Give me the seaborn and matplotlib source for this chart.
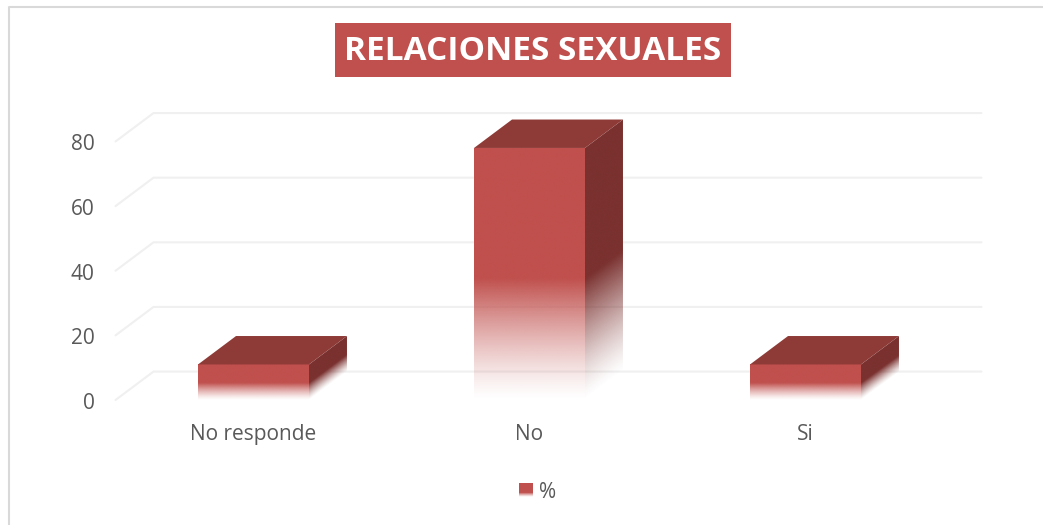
import numpy as np
import pandas as pd
import matplotlib
matplotlib.use("Agg")
import matplotlib.pyplot as plt
from matplotlib.lines import Line2D
from matplotlib.patches import Rectangle, Polygon
from matplotlib.legend_handler import HandlerPatch
from matplotlib.colors import to_rgb
from matplotlib.transforms import ScaledTranslation
import seaborn as sns

# Survey results
categories = ["No responde", "No", "Si"]
percent = [11, 78, 11]
y_ticks = [0, 20, 40, 60, 80]
chart_title = "RELACIONES SEXUALES"
series_name = "%"

FACE = "#C0504D"
SIDE = "#7A312F"
TOP = "#8E3B38"
GRID = "#F0F0F0"
TEXT = "#595959"
FRAME = "#D9D9D9"
W, H = 1043, 525
DEPTH_X = 38 / 276   # floor depth, in category units
DEPTH_Y = 8.8        # floor depth, in value units
FADE = 0.48          # lower share of each bar that fades out

sns.set_theme(style="white")
plt.rcParams["font.family"] = ["Open Sans", "DejaVu Sans"]

fig = plt.figure(figsize=(W / 100, H / 100), dpi=100, facecolor="white")
ax = fig.add_axes([115.5 / W, (H - 400) / H, 828 / W, 258.5 / H])

df = pd.DataFrame({"categoria": categories, "porcentaje": percent})
sns.barplot(data=df, x="categoria", y="porcentaje", color=FACE, saturation=1,
            width=0.402, ax=ax, zorder=3)
ax.set_xlabel("")
ax.set_ylabel("")
ax.set_yticks(y_ticks)
sns.despine(ax=ax, left=True, bottom=True)
ax.tick_params(axis="y", length=0, pad=15, labelsize=15, labelcolor=TEXT)
ax.tick_params(axis="x", length=0, pad=17, labelsize=15, labelcolor=TEXT)
for label in ax.get_yticklabels():
    label.set_transform(label.get_transform()
                        + ScaledTranslation(0, -0.01, fig.dpi_scale_trans))

# Gridlines run across the back wall and fold forward along the side wall
for v in y_ticks:
    ax.plot([-0.5, -0.5 + DEPTH_X, 2.5 + DEPTH_X],
            [v, v + DEPTH_Y, v + DEPTH_Y],
            color=GRID, lw=1.5, zorder=1, clip_on=False,
            solid_joinstyle="miter")


def fade_face(x0, x1, height, color, lift):
    """Draw one bar face whose opacity falls to nothing toward the floor.

    lift is how far the face climbs from its left to its right edge; the fade
    follows that slope, so the side wall shades along its own perspective.
    """
    rows, cols = 500, 60
    xs = (np.arange(cols) + 0.5) / cols
    ys = (np.arange(rows) + 0.5) / rows * (height + lift)
    v = ys[:, None] - lift * xs[None, :]
    rgba = np.zeros((rows, cols, 4))
    rgba[..., :3] = to_rgb(color)
    rgba[..., 3] = np.clip(v / (height * FADE), 0, 1) ** 1.3
    image = ax.imshow(rgba, origin="lower", aspect="auto", zorder=3,
                      extent=(x0, x1, 0, height + lift),
                      interpolation="bilinear")
    image.set_clip_box(fig.bbox)
    image.set_clip_path(Polygon([(x0, 0), (x1, lift), (x1, height + lift), (x0, height)],
                                closed=True, transform=ax.transData))


# The bars carry the values; their faces are shaded on top of each patch
for bar in list(ax.patches):
    x0 = bar.get_x()
    x1 = x0 + bar.get_width()
    h = bar.get_height()
    bar.set_facecolor("none")
    bar.set_edgecolor("none")
    fade_face(x0, x1, h, FACE, 0)
    fade_face(x1, x1 + DEPTH_X, h, SIDE, DEPTH_Y)
    ax.add_patch(Polygon([(x0, h), (x1, h),
                          (x1 + DEPTH_X, h + DEPTH_Y), (x0 + DEPTH_X, h + DEPTH_Y)],
                         closed=True, facecolor=TOP, edgecolor="none",
                         zorder=3.1, clip_on=False))

ax.set_xlim(-0.5, 2.5)
ax.set_ylim(0, 80)


class FadingSwatch(HandlerPatch):
    """Legend key with the same fade as the bars."""

    def create_artists(self, legend, orig_handle, xdescent, ydescent,
                       width, height, fontsize, trans):
        bands = []
        steps = 13
        rgb = to_rgb(FACE)
        for i in range(steps):
            a = min(1.0, ((i + 0.5) / steps) / 0.35) ** 1.3
            bands.append(Rectangle((-xdescent, -ydescent + height * i / steps),
                                   width, height / steps,
                                   facecolor=rgb + (a,), edgecolor="none",
                                   antialiased=False, transform=trans))
        return bands


handle = Rectangle((0, 0), 1, 1, facecolor=FACE)
fig.legend([handle], [series_name], loc="center",
           bbox_to_anchor=(537.5 / W, 1 - 492 / H), frameon=False,
           handler_map={Rectangle: FadingSwatch()}, handlelength=0.67,
           handleheight=0.62, handletextpad=0.29, borderpad=0,
           prop={"size": 15}, labelcolor=TEXT)

# Title banner
fig.add_artist(Rectangle((335 / W, 1 - 77 / H), 396 / W, 54 / H, facecolor=FACE,
                         edgecolor="none", transform=fig.transFigure))
fig.text(532.5 / W, 1 - 52 / H, chart_title, color="white", fontsize=24,
         fontweight="bold", ha="center", va="center")

# Chart frame, visible on the top and left only
fig.add_artist(Line2D([9 / W, 9 / W, 1], [0, 1 - 7 / H, 1 - 7 / H], color=FRAME,
                      lw=1.5, transform=fig.transFigure))

fig.savefig("out.png", dpi=100)
